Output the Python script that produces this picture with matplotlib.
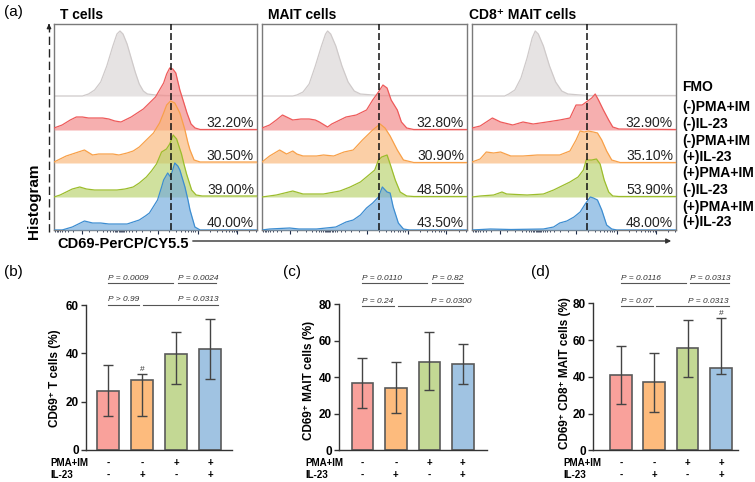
import matplotlib
matplotlib.use("Agg")
import matplotlib.pyplot as plt
import numpy as np
from matplotlib import transforms

# ---------------- data ----------------
# Histogram curves: (position % of axis width, height in px above row baseline)
T_FMO = [(0,0),(14,0),(17,2),(20,6),(23,14),(26,30),(29,50),(31,62),(32.5,65),(34,62),(36,52),(38,38),(40,24),(42,12),(44,5),(46,2),(50,1),(55,0.5),(100,0.5)]
T_RED = [(0,2),(4,5),(8,10),(11,13),(14,13),(17,12),(20,12),(24,12),(27,11),(30,9),(33,8),(36,11),(38,13),(41,17),(44,21),(47,27),(50,33),(52,40),(54,47),(55.5,56),(57,62),(58.5,61),(60,57),(62,40),(64,27),(65.5,17),(67.5,6),(69.5,2),(72,0.5),(100,0.5)]
T_ORANGE = [(0,1),(3,4),(6,7),(9,9),(12,11),(15,13),(19,8),(22,9),(26,9),(29,9),(32,8),(36,10),(39,12),(42,16),(44,20),(47,26),(49,30),(52,40),(54,50),(55.5,58),(57.4,62),(59.5,60),(61,54),(62,50),(63.5,40),(64.5,33),(66,20),(67,13),(69,3),(72,1),(100,1)]
T_GREEN = [(0,0),(3,2),(6,5),(9,8),(12.7,10),(16,8),(20,7),(25,7),(31,7),(35,8),(39,10),(42,14),(45.5,20),(48,26),(50.5,33),(53,45),(55.4,48),(57,53),(58.7,62),(60.4,58),(62.8,43),(64,33),(65.3,23),(67.8,7),(70,2),(73,1),(100,1)]
T_BLUE = [(0,0),(4,0),(9,3),(12,6),(15,9),(19,7),(23,7),(27,6),(32,6),(36,6),(42,10),(45,14),(47,17),(51,30),(53,43),(54,50),(56,57),(57.4,53),(59.5,67),(61,64),(62,60),(64.5,43),(66,30),(67,20),(69.4,3),(72,0),(100,0)]

M_FMO = [(0,0),(15,0),(17,1),(20,4),(23,12),(26,30),(29,50),(31,62),(32,65),(33.5,62),(36,50),(39,30),(42,14),(45,5),(48,2),(54,1),(58,0.5),(100,0.5)]
M_RED = [(0,2),(3.7,5),(7,10),(10,15),(12,13),(15,10),(19,11),(23,11),(26,10),(28,8),(32,3),(34,6),(36,8),(41,13),(46,15),(51,20),(54,30),(56.8,38),(59,45),(61,42),(63,30),(66,20),(68,8),(70.6,2),(74,0.5),(100,0.5)]
M_ORANGE = [(0,1),(3.7,7),(8.6,13),(12,9),(15,12),(17,9),(20,7),(26.6,7),(30,8),(35,7),(40,11),(44.5,13),(49,23),(54,33),(57.6,39),(60,35),(62.5,27),(66,13),(69,3),(74,0.5),(100,0.5)]
M_GREEN = [(0,0),(7,2),(11,4),(15,6),(20,3),(30,3),(38,6),(43,10),(48,15),(52.7,23),(55,27),(56.8,37),(58.4,40),(61,42),(62.5,33),(65,17),(67.4,5),(70.6,1),(74,0.5),(100,0.5)]
M_BLUE = [(0,0),(3.7,1),(13.5,2),(18,1),(26.6,1),(36,3),(41,8),(44.5,10),(48,15),(51,22),(54,27),(56.8,33),(58.7,43),(61,38),(62.5,37),(64,23),(66.5,7),(69,1),(72,0),(100,0)]

C_FMO = [(0,0),(16,0),(18,2),(21,6),(24,18),(27,38),(29.5,58),(31,65),(32.5,62),(35,50),(38,30),(41,14),(44,5),(47,2),(53,1),(57,0.5),(100,0.5)]
C_RED = [(0,2),(4,4),(7,8),(10,12),(14,8),(20,5),(25,8),(30,6),(36.7,8),(43,10),(48,12),(51,25),(54,25),(56,28),(58.7,32),(60.4,36),(62,30),(64.4,20),(67,10),(69,3),(72,1),(100,0.5)]
C_ORANGE = [(0,1),(4,4),(7,11),(10.6,10),(14,11),(19,7),(25,7),(32,8),(38,8),(43,8),(48,12),(51,23),(53,32),(55,31),(57,32),(59.5,31),(61.5,30),(63.6,23),(66,12),(68.5,3),(72.6,0.5),(100,0.5)]
C_GREEN = [(0,0),(4,1),(10.6,2),(14.7,5),(17,3),(27,2),(35,3),(40,7),(44,11),(48,15),(52,20),(54.6,27),(56,37),(58.7,37),(61,38),(62.8,33),(64.8,17),(67,5),(69,1),(72,0.5),(100,0.5)]
C_BLUE = [(0,0),(9,1),(19,0.5),(35,1),(40,3),(43,7),(46.5,9),(50,13),(53,18),(55.5,26),(58,33),(59.5,32),(61.5,30),(63.6,20),(66,5),(68.5,1),(71,0),(100,0)]

HIST_TITLES = ["T cells", "MAIT cells", "CD8\u207a MAIT cells"]
GATES = [57.6, 57.1, 56.4]
T_PCT = ["32.20%", "30.50%", "39.00%", "40.00%"]
M_PCT = ["32.80%", "30.90%", "48.50%", "43.50%"]
C_PCT = ["32.90%", "35.10%", "53.90%", "48.00%"]
ROW_LABELS = ["FMO", "(-)PMA+IM", "(-)IL-23", "(-)PMA+IM", "(+)IL-23",
              "(+)PMA+IM", "(-)IL-23", "(+)PMA+IM", "(+)IL-23"]

# Bar charts: mean, upper and lower error limits
B_MEAN = [24.6, 29.0, 39.8, 41.7]
B_UP = [35.2, 31.3, 49.0, 54.1]
B_LO = [14.1, 14.1, 27.2, 29.2]
C_MEAN = [36.7, 34.3, 48.6, 47.3]
C_UP = [50.6, 48.2, 64.7, 58.4]
C_LO = [23.2, 20.3, 33.1, 36.3]
D_MEAN = [40.8, 37.0, 55.5, 44.6]
D_UP = [56.6, 53.0, 71.1, 71.9]
D_LO = [25.0, 21.1, 39.7, 41.4]
PMA = ["-", "-", "+", "+"]
IL23 = ["-", "+", "-", "+"]
B_P = ["P = 0.0009", "P = 0.0024", "P > 0.99", "P = 0.0313"]
C_P = ["P = 0.0110", "P = 0.82", "P = 0.24", "P = 0.0300"]
D_P = ["P = 0.0116", "P = 0.0313", "P = 0.07", "P = 0.0313"]

# ---------------- style ----------------
W, H = 755, 482
plt.rcParams["font.family"] = ["Liberation Sans", "DejaVu Sans"]
plt.rcParams["lines.scale_dashes"] = False

fig = plt.figure(figsize=(W / 100, H / 100), dpi=100)

def px_axes(x0, y0, x1, y1):
    return fig.add_axes([x0 / W, 1 - y1 / H, (x1 - x0) / W, (y1 - y0) / H])

def ftext(x, y, s, **kw):
    fig.text(x / W, 1 - y / H, s, **kw)

# overlay for decorative lines in pixel coordinates
ov = fig.add_axes([0, 0, 1, 1], zorder=-1)
ov.set_xlim(0, W); ov.set_ylim(H, 0); ov.axis("off")

LINE_COLS = ["#cfcaca", "#ee5a5a", "#f8a048", "#9cbd2c", "#3d8dd1"]
FILL_COLS = ["#e6e3e3", "#f38d8d", "#fab676", "#b8d26a", "#6fa9dc"]
FILL_ALPHA = [1.0, 0.7, 0.65, 0.65, 0.65]
ROW_BASE = [134, 100, 67, 33, 0]

boxes = [(54, 24, 257, 230), (262, 24, 467, 230), (472, 24, 676, 230)]
title_x = [60, 268, 469]
curves_all = [[T_FMO, T_RED, T_ORANGE, T_GREEN, T_BLUE],
              [M_FMO, M_RED, M_ORANGE, M_GREEN, M_BLUE],
              [C_FMO, C_RED, C_ORANGE, C_GREEN, C_BLUE]]
pcts_all = [T_PCT, M_PCT, C_PCT]

# bottom tick positions (biexponential-like decoration)
majors = [13.6, 51, 71, 90]
minors = []
for d in [51, 71, 90]:
    for k in range(2, 10):
        p = d + 19.5 * np.log10(k)
        if p < 100:
            minors.append(p)
for k in range(2, 10):
    minors.append(13.6 - 19.5 * np.log10(k) * 0.7)
for off in [-15, -11, -8, -6, -4.5, -3.3, -2.4, -1.7, -1.1, -0.5, 0, 0.5, 1.1, 1.7, 2.4, 3.3, 4.5, 6, 8, 11, 15]:
    minors.append(32.3 + off)
minors = [m for m in minors if 0 < m < 100]

for i, (x0, y0, x1, y1) in enumerate(boxes):
    ax = px_axes(x0, y0, x1, y1)
    ax.set_xlim(0, 100); ax.set_ylim(0, 206)
    for j, cur in enumerate(curves_all[i]):
        xs = np.array([p[0] for p in cur]); hs = np.array([p[1] for p in cur])
        base = ROW_BASE[j]
        ax.fill_between(xs, base, base + hs, color=FILL_COLS[j], alpha=FILL_ALPHA[j], lw=0, zorder=2 + j)
        ax.plot(xs, base + hs, color=LINE_COLS[j], lw=0.9, zorder=2.5 + j)
    ax.axvline(GATES[i], color="#111111", lw=1.1, dashes=(5, 2.2), zorder=10)
    for j, s in enumerate(pcts_all[i]):
        ax.text(98.5, ROW_BASE[j + 1] + 7, s, ha="right", va="center", fontsize=10, color="#222222", zorder=11)
    for sp in ax.spines.values():
        sp.set_color("#7a7a7a"); sp.set_linewidth(1.0)
    ax.set_xticks([]); ax.set_yticks([])
    ax.vlines(majors, -4, 0, color="#1d2b4a", lw=0.8, clip_on=False)
    ax.vlines(minors, -2.2, 0, color="#1d2b4a", lw=0.6, clip_on=False)
    ftext(title_x[i], 15, HIST_TITLES[i], fontsize=10, fontweight="bold", ha="left", va="center")

ftext(4, 12, "(a)", fontsize=11, ha="left", va="center")
ftext(34, 201, "Histogram", fontsize=11, fontweight="bold", rotation=90, ha="center", va="center")
ftext(57, 244, "CD69-PerCP/CY5.5", fontsize=10.5, fontweight="bold", ha="left", va="center")
ov.plot([49, 49], [232, 27], color="#222222", lw=1.0, dashes=(6, 3))
ov.annotate("", xy=(49, 21), xytext=(49, 28), arrowprops=dict(arrowstyle="-|>", color="#222222", lw=1.0, mutation_scale=6))
ov.annotate("", xy=(674, 241), xytext=(190, 241), arrowprops=dict(arrowstyle="-|>", color="#333333", lw=1.0, mutation_scale=7))

label_y = [86.7, 107.3, 124, 140.7, 156.7, 173.3, 190, 206.7, 221.7]
for s, yy in zip(ROW_LABELS, label_y):
    ftext(682.5, yy, s, fontsize=10, fontweight="bold", ha="left", va="center")

# ---------------- bar charts ----------------
BAR_COLS = ["#f9a19b", "#fdbb7d", "#c3d894", "#a0c3e2"]

def bar_panel(rect, xlim, ymax, yticks, mean, up, lo, pvals, brackets, ylabel, ylab_xy,
              plab, plab_xy, table_x, hashes):
    ax = px_axes(*rect)
    x = np.arange(len(mean))
    mean = np.array(mean); up = np.array(up); lo = np.array(lo)
    ax.bar(x, mean, width=0.65, color=BAR_COLS, edgecolor="#5a5a5a", linewidth=1.2, zorder=2)
    ax.errorbar(x, mean, yerr=[mean - lo, up - mean], fmt="none", ecolor="#444444",
                elinewidth=1.0, capsize=3.8, capthick=1.0, zorder=3)
    ax.set_xlim(*xlim); ax.set_ylim(0, ymax)
    for s in ["top", "right"]:
        ax.spines[s].set_visible(False)
    for s in ["left", "bottom"]:
        ax.spines[s].set_color("#333333"); ax.spines[s].set_linewidth(1.0)
    ax.set_xticks([])
    ax.set_yticks(yticks)
    ax.set_yticklabels([str(t) for t in yticks], fontweight="bold", fontsize=8.5)
    ax.tick_params(axis="y", length=3.5, width=1, color="#333333", pad=1.5)
    tr = transforms.blended_transform_factory(ax.transData, fig.transFigure)
    for (row_y, x0, x1, tx, ha), txt in zip(brackets, pvals):
        yf = 1 - row_y / H
        ax.plot([x0, x1], [yf, yf], transform=tr, color="#555555", lw=0.8, clip_on=False)
        ax.annotate(txt, xy=(tx, yf), xycoords=tr, xytext=(0, 0.8), textcoords="offset points",
                    ha=ha, va="bottom", fontsize=6, style="italic", color="#333333")
    for k in hashes:
        ax.annotate("#", xy=(k, up[k]), xytext=(0, 1), textcoords="offset points",
                    ha="center", va="bottom", fontsize=6, color="#333333")
    ftext(ylab_xy[0], ylab_xy[1], ylabel, fontsize=8.5, fontweight="bold", rotation=90, ha="center", va="center")
    ftext(plab_xy[0], plab_xy[1], plab, fontsize=11, ha="left", va="center")
    ftext(table_x, 463, "PMA+IM", fontsize=7, fontweight="bold", ha="left", va="center")
    ftext(table_x, 475, "IL-23", fontsize=7, fontweight="bold", ha="left", va="center")
    for k in range(len(mean)):
        ax.text(k, 1 - 463 / H, PMA[k], transform=tr, fontsize=7, fontweight="bold", ha="center", va="center")
        ax.text(k, 1 - 475 / H, IL23[k], transform=tr, fontsize=7, fontweight="bold", ha="center", va="center")
    return ax

bar_panel((86, 305, 232, 450), (-0.647, 3.647), 60, [0, 20, 40, 60], B_MEAN, B_UP, B_LO, B_P,
          [(283, 0.0, 1.91, 0.0, "left"), (283, 2.05, 3.18, 2.05, "left"),
           (304.5, 0.0, 0.92, 0.0, "left"), (304.5, 1.04, 3.24, 3.24, "right")],
          "CD69\u207a T cells (%)", (55, 378), "(b)", (4, 272), 50, [1])

bar_panel((339, 304.3, 487, 450.3), (-0.70, 3.72), 80, [0, 20, 40, 60, 80], C_MEAN, C_UP, C_LO, C_P,
          [(283, 0.0, 1.93, 0.0, "left"), (283, 2.07, 3.0, 2.07, "left"),
           (306, 0.0, 0.94, 0.0, "left"), (306, 1.05, 3.01, 3.27, "right")],
          "CD69\u207a MAIT cells (%)", (309, 380), "(c)", (283, 272), 305, [])

bar_panel((592.7, 303.3, 738, 450.3), (-0.84, 3.51), 80, [0, 20, 40, 60, 80], D_MEAN, D_UP, D_LO, D_P,
          [(283, 0.0, 1.94, 0.0, "left"), (283, 2.07, 3.24, 2.07, "left"),
           (306, 0.0, 0.955, 0.0, "left"), (306, 1.07, 3.24, 3.24, "right")],
          "CD69\u207a CD8\u207a MAIT cells (%)", (565, 373), "(d)", (531, 272), 563, [3])

fig.savefig("out.png", dpi=100)
